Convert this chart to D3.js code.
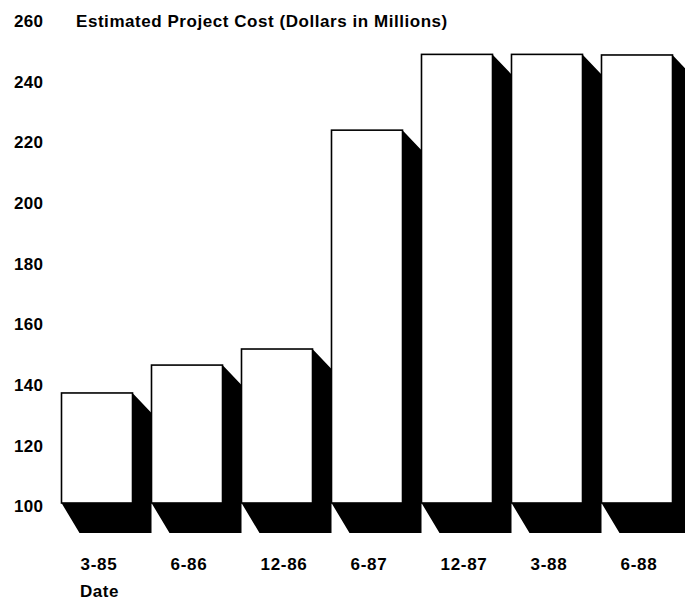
<!DOCTYPE html>
<html>
<head>
<meta charset="utf-8">
<script src="https://cdn.jsdelivr.net/npm/d3@7"></script>
<style>
  html, body { margin: 0; padding: 0; background: #fff; }
  svg { display: block; }
  text { font-family: "Liberation Sans", Arial, Helvetica, sans-serif; font-weight: bold; fill: #000; }
</style>
</head>
<body>
<svg id="chart" width="685" height="602"></svg>
<script>
// Estimated project cost by reporting date (dollars in millions)
const dates = ["3-85", "6-86", "12-86", "6-87", "12-87", "3-88", "6-88"];
const costs = [136.3, 145.5, 150.8, 223, 248, 248, 247.8];
const yTicks = [100, 120, 140, 160, 180, 200, 220, 240, 260];
const title = "Estimated Project Cost (Dollars in Millions)";
const xTitle = "Date";

const svg = d3.select("#chart");

const x = d3.scaleBand()
  .domain(dates)
  .range([61.5, 672.5])
  .paddingInner(0.211)
  .paddingOuter(0);

const y = d3.scaleLinear()
  .domain([100, 260])
  .range([503, 18]);

const base = y(100);
// extrusion of the drop shadow behind each column
const depthX = 19, depthTop = 20, depthBottomX = 18, depthBottom = 30;

const bars = svg.append("g");

// black shadow blocks
bars.selectAll("path.shadow")
  .data(dates)
  .join("path")
  .attr("class", "shadow")
  .attr("fill", "#000")
  .attr("d", (d, i) => {
    const xl = x(d), xr = x(d) + x.bandwidth(), top = y(costs[i]);
    return "M" + [
      [xr, top],
      [xr + depthX, top + depthTop],
      [xr + depthX, base + depthBottom],
      [xl + depthBottomX, base + depthBottom],
      [xl, base],
      [xr, base]
    ].map(p => p.join(",")).join("L") + "Z";
  });

// white front faces
bars.selectAll("rect.face")
  .data(dates)
  .join("rect")
  .attr("class", "face")
  .attr("x", d => x(d))
  .attr("y", (d, i) => y(costs[i]))
  .attr("width", x.bandwidth())
  .attr("height", (d, i) => base - y(costs[i]))
  .attr("fill", "#fff")
  .attr("stroke", "#000")
  .attr("stroke-width", 1.6);

// value axis, labels left-aligned in a column
const yAxis = svg.append("g")
  .attr("transform", "translate(14,0)")
  .call(d3.axisLeft(y).tickValues(yTicks).tickSize(0).tickFormat(d3.format("d")));
yAxis.select(".domain").remove();
yAxis.selectAll("text")
  .attr("x", 0)
  .attr("dy", null)
  .attr("y", 8.7)
  .attr("text-anchor", "start")
  .style("font-family", "'Liberation Sans', Arial, sans-serif")
  .style("font-weight", "bold")
  .style("font-size", "17px")
  .style("letter-spacing", "0.3px");

// date axis, labels set in from each column's left edge
const xAxis = svg.append("g")
  .attr("transform", "translate(0,570)")
  .call(d3.axisBottom(x).tickSize(0));
xAxis.select(".domain").remove();
xAxis.selectAll(".tick")
  .attr("transform", d => "translate(" + (x(d) + 19) + ",0)");
xAxis.selectAll("text")
  .attr("x", 0)
  .attr("y", 0)
  .attr("dy", null)
  .attr("text-anchor", "start")
  .style("font-family", "'Liberation Sans', Arial, sans-serif")
  .style("font-weight", "bold")
  .style("font-size", "17px")
  .style("letter-spacing", "0.7px");

svg.append("text")
  .attr("x", 76)
  .attr("y", y(260) + 8.7)
  .style("font-size", "17px")
  .style("letter-spacing", "0.55px")
  .text(title);

svg.append("text")
  .attr("x", 80)
  .attr("y", 597)
  .style("font-size", "17px")
  .style("letter-spacing", "0.5px")
  .text(xTitle);
</script>
</body>
</html>
